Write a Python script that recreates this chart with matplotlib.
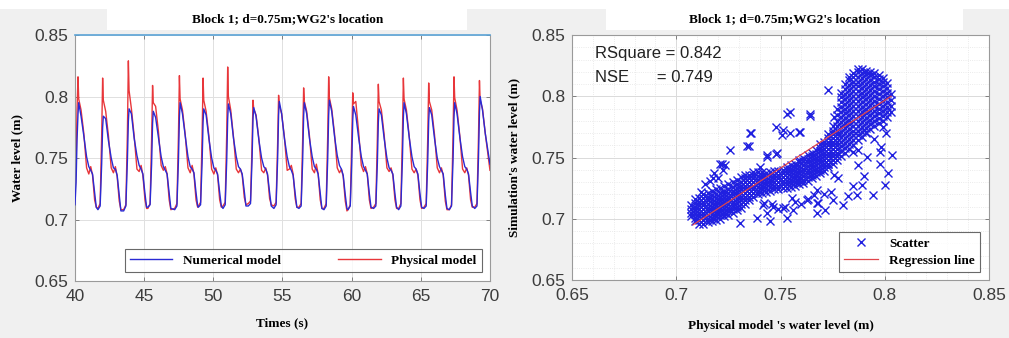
import numpy as np
import matplotlib.pyplot as plt
from matplotlib.ticker import MultipleLocator, AutoMinorLocator

# ---------------- datos: serie temporal (WG2) ----------------
tiempo = [
    40.00, 40.08, 40.15,
    40.22, 40.27, 40.44, 40.64, 40.84, 41.00, 41.14, 41.27, 41.42, 41.54,
    41.66, 41.82, 41.93, 42.00, 42.05, 42.22, 42.42, 42.62, 42.78, 42.92, 43.05, 43.20, 43.32,
    43.52, 43.68, 43.79, 43.86, 43.91, 44.08, 44.28, 44.48, 44.64, 44.78, 44.91, 45.06, 45.18,
    45.27, 45.43, 45.54, 45.61, 45.66, 45.83, 46.03, 46.23, 46.39, 46.53, 46.66, 46.81, 46.93,
    47.21, 47.37, 47.48, 47.55, 47.60, 47.77, 47.97, 48.17, 48.33, 48.47, 48.60, 48.75, 48.87,
    48.92, 49.08, 49.19, 49.26, 49.31, 49.48, 49.68, 49.88, 50.04, 50.18, 50.31, 50.46, 50.58,
    50.70, 50.86, 50.97, 51.04, 51.09, 51.26, 51.46, 51.66, 51.82, 51.96, 52.09, 52.24, 52.36,
    52.53, 52.69, 52.80, 52.87, 52.92, 53.09, 53.29, 53.49, 53.65, 53.79, 53.92, 54.07, 54.19,
    54.38, 54.54, 54.65, 54.72, 54.77, 54.94, 55.14, 55.34, 55.50, 55.64, 55.77, 55.92, 56.04,
    56.19, 56.35, 56.46, 56.53, 56.58, 56.75, 56.95, 57.15, 57.31, 57.45, 57.58, 57.73, 57.85,
    58.00, 58.16, 58.27, 58.34, 58.39, 58.56, 58.76, 58.96, 59.12, 59.26, 59.39, 59.54, 59.66,
    59.74, 59.90, 60.01, 60.08, 60.13, 60.30, 60.50, 60.70, 60.86, 61.00, 61.13, 61.28, 61.40,
    61.59, 61.75, 61.86, 61.93, 61.98, 62.15, 62.35, 62.55, 62.71, 62.85, 62.98, 63.13, 63.25,
    63.40, 63.56, 63.67, 63.74, 63.79, 63.96, 64.16, 64.36, 64.52, 64.66, 64.79, 64.94, 65.06,
    65.23, 65.39, 65.50, 65.57, 65.62, 65.79, 65.99, 66.19, 66.35, 66.49, 66.62, 66.77, 66.89,
    67.06, 67.22, 67.33, 67.40, 67.45, 67.62, 67.82, 68.02, 68.18, 68.32, 68.45, 68.60, 68.72,
    68.90, 69.06, 69.17, 69.24, 69.29, 69.46, 69.66, 69.86, 70.00,
]

modelo_fisico = [
    0.716, 0.745, 0.790,
    0.816, 0.798, 0.789, 0.770, 0.742, 0.737, 0.743, 0.736, 0.716, 0.710,
    0.709, 0.713, 0.768, 0.815, 0.797, 0.788, 0.768, 0.742, 0.738, 0.743, 0.735, 0.715, 0.708,
    0.708, 0.712, 0.770, 0.829, 0.805, 0.790, 0.768, 0.741, 0.739, 0.744, 0.736, 0.716, 0.709,
    0.709, 0.713, 0.765, 0.809, 0.795, 0.792, 0.772, 0.744, 0.740, 0.743, 0.737, 0.716, 0.708,
    0.709, 0.713, 0.768, 0.817, 0.798, 0.789, 0.769, 0.742, 0.738, 0.744, 0.737, 0.716, 0.710,
    0.711, 0.714, 0.767, 0.815, 0.797, 0.788, 0.768, 0.741, 0.737, 0.742, 0.736, 0.716, 0.710,
    0.711, 0.714, 0.770, 0.824, 0.800, 0.789, 0.767, 0.741, 0.738, 0.741, 0.736, 0.718, 0.712,
    0.713, 0.715, 0.760, 0.797, 0.790, 0.785, 0.766, 0.740, 0.738, 0.742, 0.736, 0.717, 0.712,
    0.711, 0.714, 0.762, 0.801, 0.793, 0.786, 0.767, 0.740, 0.741, 0.744, 0.737, 0.717, 0.710,
    0.710, 0.713, 0.765, 0.807, 0.796, 0.788, 0.768, 0.741, 0.738, 0.745, 0.737, 0.716, 0.709,
    0.709, 0.713, 0.768, 0.816, 0.799, 0.790, 0.770, 0.742, 0.738, 0.741, 0.735, 0.715, 0.707,
    0.708, 0.712, 0.765, 0.803, 0.794, 0.796, 0.772, 0.744, 0.739, 0.743, 0.737, 0.716, 0.709,
    0.710, 0.713, 0.766, 0.810, 0.796, 0.789, 0.769, 0.742, 0.739, 0.742, 0.736, 0.716, 0.709,
    0.709, 0.713, 0.768, 0.815, 0.798, 0.789, 0.768, 0.741, 0.738, 0.741, 0.736, 0.716, 0.709,
    0.710, 0.713, 0.766, 0.811, 0.796, 0.789, 0.769, 0.742, 0.738, 0.742, 0.736, 0.715, 0.708,
    0.708, 0.712, 0.768, 0.816, 0.799, 0.789, 0.768, 0.741, 0.738, 0.742, 0.736, 0.716, 0.710,
    0.710, 0.713, 0.767, 0.813, 0.797, 0.790, 0.770, 0.752, 0.740,
]

modelo_numerico = [
    0.712, 0.730, 0.765,
    0.786, 0.795, 0.784, 0.768, 0.751, 0.743, 0.740, 0.737, 0.722, 0.710,
    0.708, 0.711, 0.745, 0.775, 0.784, 0.782, 0.764, 0.750, 0.742, 0.741, 0.736, 0.720, 0.707,
    0.707, 0.711, 0.748, 0.780, 0.790, 0.786, 0.766, 0.752, 0.744, 0.741, 0.737, 0.721, 0.710,
    0.710, 0.712, 0.745, 0.778, 0.788, 0.783, 0.767, 0.751, 0.743, 0.740, 0.737, 0.721, 0.709,
    0.708, 0.711, 0.748, 0.783, 0.795, 0.786, 0.768, 0.751, 0.743, 0.741, 0.738, 0.722, 0.711,
    0.710, 0.712, 0.746, 0.779, 0.790, 0.785, 0.766, 0.750, 0.742, 0.740, 0.737, 0.722, 0.711,
    0.709, 0.712, 0.748, 0.782, 0.794, 0.786, 0.766, 0.751, 0.743, 0.741, 0.737, 0.723, 0.711,
    0.711, 0.713, 0.748, 0.782, 0.791, 0.784, 0.765, 0.750, 0.743, 0.741, 0.737, 0.722, 0.711,
    0.709, 0.712, 0.749, 0.785, 0.796, 0.786, 0.766, 0.751, 0.743, 0.740, 0.736, 0.721, 0.710,
    0.709, 0.711, 0.748, 0.784, 0.795, 0.786, 0.766, 0.751, 0.743, 0.741, 0.737, 0.721, 0.709,
    0.708, 0.711, 0.749, 0.785, 0.797, 0.788, 0.768, 0.752, 0.744, 0.741, 0.736, 0.720, 0.709,
    0.708, 0.711, 0.747, 0.781, 0.792, 0.785, 0.767, 0.751, 0.743, 0.740, 0.737, 0.721, 0.710,
    0.709, 0.711, 0.746, 0.779, 0.790, 0.785, 0.766, 0.750, 0.742, 0.740, 0.737, 0.721, 0.710,
    0.708, 0.711, 0.748, 0.783, 0.795, 0.786, 0.767, 0.751, 0.743, 0.741, 0.737, 0.721, 0.710,
    0.709, 0.711, 0.747, 0.780, 0.791, 0.785, 0.766, 0.750, 0.743, 0.740, 0.737, 0.720, 0.709,
    0.708, 0.711, 0.748, 0.783, 0.795, 0.786, 0.767, 0.751, 0.743, 0.741, 0.737, 0.722, 0.711,
    0.709, 0.711, 0.750, 0.787, 0.800, 0.789, 0.770, 0.755, 0.745,
]

# ---------------- datos: dispersion (nucleo denso, por columnas) ----------------
nucleo_x = [0.707, 0.709, 0.711, 0.713, 0.715, 0.717, 0.719, 0.721, 0.723, 0.725,
            0.727, 0.729, 0.731, 0.733, 0.735, 0.737, 0.739, 0.741, 0.743, 0.745,
            0.747, 0.749, 0.751, 0.753, 0.755, 0.757, 0.759, 0.761, 0.763, 0.765,
            0.767, 0.769, 0.771, 0.773, 0.775, 0.777, 0.779, 0.781, 0.783, 0.785,
            0.787, 0.789, 0.791, 0.793, 0.795, 0.797, 0.799, 0.801, 0.803]
nucleo_y = [
    [0.702, 0.705, 0.708, 0.711],
    [0.698, 0.701, 0.704, 0.707, 0.710, 0.713, 0.716],
    [0.696, 0.699, 0.702, 0.705, 0.708, 0.711, 0.714, 0.717],
    [0.696, 0.699, 0.702, 0.705, 0.708, 0.711, 0.714, 0.717, 0.720],
    [0.697, 0.700, 0.703, 0.706, 0.709, 0.712, 0.715, 0.718, 0.721],
    [0.698, 0.701, 0.704, 0.707, 0.710, 0.713, 0.716, 0.719, 0.723],
    [0.699, 0.702, 0.705, 0.708, 0.711, 0.714, 0.717, 0.720, 0.724],
    [0.700, 0.703, 0.706, 0.709, 0.712, 0.715, 0.718, 0.721, 0.725],
    [0.702, 0.705, 0.708, 0.711, 0.714, 0.717, 0.720, 0.723, 0.727],
    [0.703, 0.706, 0.709, 0.712, 0.715, 0.718, 0.721, 0.724, 0.728],
    [0.705, 0.708, 0.711, 0.714, 0.717, 0.720, 0.723, 0.726, 0.730],
    [0.707, 0.710, 0.713, 0.716, 0.719, 0.722, 0.725, 0.728, 0.732],
    [0.709, 0.712, 0.715, 0.718, 0.721, 0.724, 0.727, 0.730, 0.734],
    [0.712, 0.715, 0.718, 0.721, 0.724, 0.727, 0.730, 0.733, 0.736],
    [0.715, 0.718, 0.721, 0.724, 0.727, 0.730, 0.733, 0.736],
    [0.718, 0.721, 0.724, 0.727, 0.730, 0.733, 0.736, 0.738],
    [0.720, 0.723, 0.726, 0.729, 0.732, 0.735, 0.738],
    [0.721, 0.724, 0.727, 0.730, 0.733, 0.736, 0.738],
    [0.722, 0.725, 0.728, 0.731, 0.734, 0.737],
    [0.723, 0.726, 0.729, 0.732, 0.735, 0.738],
    [0.724, 0.727, 0.730, 0.733, 0.736, 0.739],
    [0.724, 0.727, 0.730, 0.733, 0.736, 0.739],
    [0.725, 0.728, 0.731, 0.734, 0.737, 0.740],
    [0.725, 0.728, 0.731, 0.734, 0.737, 0.740, 0.742],
    [0.726, 0.729, 0.732, 0.735, 0.738, 0.741, 0.744],
    [0.727, 0.730, 0.733, 0.736, 0.739, 0.742, 0.745],
    [0.728, 0.731, 0.734, 0.737, 0.740, 0.743, 0.746, 0.748],
    [0.729, 0.732, 0.735, 0.738, 0.741, 0.744, 0.747, 0.750],
    [0.731, 0.734, 0.737, 0.740, 0.743, 0.746, 0.749, 0.752],
    [0.733, 0.736, 0.739, 0.742, 0.745, 0.748, 0.751, 0.754],
    [0.735, 0.738, 0.741, 0.744, 0.747, 0.750, 0.753, 0.756],
    [0.737, 0.740, 0.743, 0.746, 0.749, 0.752, 0.755, 0.758, 0.761],
    [0.739, 0.742, 0.745, 0.748, 0.751, 0.754, 0.757, 0.760, 0.763],
    [0.742, 0.745, 0.748, 0.751, 0.754, 0.757, 0.760, 0.763, 0.766, 0.769],
    [0.745, 0.748, 0.751, 0.754, 0.757, 0.760, 0.763, 0.766, 0.769, 0.772, 0.776],
    [0.748, 0.751, 0.754, 0.757, 0.760, 0.763, 0.766, 0.769, 0.772, 0.776, 0.780, 0.785, 0.790],
    [0.751, 0.755, 0.759, 0.763, 0.767, 0.771, 0.775, 0.779, 0.783, 0.787, 0.791, 0.795, 0.799, 0.803],
    [0.754, 0.758, 0.762, 0.766, 0.770, 0.774, 0.778, 0.782, 0.786, 0.790, 0.794, 0.798, 0.802, 0.806, 0.810],
    [0.757, 0.761, 0.765, 0.769, 0.773, 0.777, 0.781, 0.785, 0.789, 0.793, 0.797, 0.801, 0.805, 0.809, 0.813, 0.816],
    [0.760, 0.764, 0.768, 0.772, 0.776, 0.780, 0.784, 0.788, 0.792, 0.796, 0.800, 0.804, 0.808, 0.812, 0.816, 0.819],
    [0.764, 0.768, 0.772, 0.776, 0.780, 0.784, 0.788, 0.792, 0.796, 0.800, 0.804, 0.808, 0.812, 0.816, 0.820, 0.822],
    [0.767, 0.771, 0.775, 0.779, 0.783, 0.787, 0.791, 0.795, 0.799, 0.803, 0.807, 0.811, 0.815, 0.819, 0.822],
    [0.770, 0.774, 0.778, 0.782, 0.786, 0.790, 0.794, 0.798, 0.802, 0.806, 0.810, 0.814, 0.818, 0.821],
    [0.773, 0.777, 0.781, 0.785, 0.789, 0.793, 0.797, 0.801, 0.805, 0.809, 0.813, 0.817, 0.820],
    [0.776, 0.780, 0.784, 0.788, 0.792, 0.796, 0.800, 0.804, 0.808, 0.812, 0.816, 0.819],
    [0.778, 0.782, 0.786, 0.790, 0.794, 0.798, 0.802, 0.806, 0.810, 0.814, 0.817],
    [0.780, 0.784, 0.788, 0.792, 0.796, 0.800, 0.804, 0.808, 0.812, 0.815],
    [0.783, 0.787, 0.791, 0.795, 0.799, 0.803, 0.807, 0.811],
    [0.787, 0.792, 0.797, 0.802],
]

# puntos sueltos (fuera del nucleo)
sueltos_x = [0.773, 0.7546, 0.764, 0.759, 0.748, 0.7505, 0.736, 0.7337, 0.735, 0.7258,
             0.7433, 0.748, 0.7217, 0.7234, 0.785, 0.7873, 0.7913, 0.7977, 0.8033, 0.798,
             0.8006, 0.799, 0.791, 0.795, 0.7755, 0.787, 0.7977, 0.773,
             0.7306, 0.7386, 0.7418, 0.7434, 0.7466, 0.7514, 0.753, 0.7554, 0.757, 0.7625,
             0.7673, 0.7673, 0.7713, 0.7753, 0.780, 0.7825, 0.7865, 0.785, 0.789, 0.7945,
             0.800, 0.8017, 0.790, 0.7777, 0.7755, 0.7673, 0.7594, 0.745, 0.7258, 0.7194,
             0.7354, 0.7402, 0.7434, 0.7482, 0.721, 0.7226, 0.7178, 0.753, 0.7514, 0.7546,
             0.7594, 0.7642, 0.712, 0.714, 0.716, 0.718, 0.720,
             0.742, 0.746, 0.749, 0.752, 0.756, 0.760, 0.763, 0.766, 0.768, 0.771, 0.774]
sueltos_y = [0.805, 0.787, 0.784, 0.771, 0.775, 0.768, 0.770, 0.7594, 0.7594, 0.756,
             0.7518, 0.7526, 0.7445, 0.7437, 0.7546, 0.756, 0.7505, 0.7546, 0.752, 0.7586,
             0.7696, 0.775, 0.771, 0.7655, 0.783, 0.744, 0.745, 0.745,
             0.6965, 0.7006, 0.7114, 0.7047, 0.710, 0.7087, 0.7006, 0.7169, 0.714, 0.7155,
             0.7128, 0.7047, 0.7073, 0.7155, 0.7114, 0.7182, 0.7196, 0.7264, 0.7278, 0.7196,
             0.7278, 0.7374, 0.7346, 0.7333, 0.736, 0.7237, 0.7333, 0.6978, 0.7073, 0.7047,
             0.7696, 0.7425, 0.7506, 0.7533, 0.745, 0.7397, 0.733, 0.7859, 0.7722, 0.7696,
             0.771, 0.7859, 0.722, 0.728, 0.731, 0.737, 0.733,
             0.713, 0.712, 0.708, 0.710, 0.707, 0.712, 0.716, 0.719, 0.713, 0.720, 0.722]

# recta de regresion (extremos)
regresion_x = [0.708, 0.803]
regresion_y = [0.695, 0.800]

rsquare = 0.842
nse = 0.749

titulo = "Block 1; d=0.75m;WG2's location"

# ---------------- figura ----------------
AZUL = '#2a2ad4'
ROJO = '#e8363a'
GRIS_TXT = '#3c3c3c'
serif = 'Liberation Serif'
sans = 'Liberation Sans'

fig = plt.figure(figsize=(10.09, 3.38), dpi=100, facecolor='#f0f0f0')
fig.patches.append(plt.Rectangle((0, 0.973), 1, 0.03, transform=fig.transFigure,
                                 facecolor='white', edgecolor='none', zorder=0))

# cajas blancas de titulo
for x0, w in [(0.106, 0.357), (0.601, 0.353)]:
    fig.patches.append(plt.Rectangle((x0, 0.911), w, 0.064, transform=fig.transFigure,
                                     facecolor='white', edgecolor='none', zorder=1))

ax1 = fig.add_axes([0.0743, 0.1686, 0.4113, 0.7278])
ax2 = fig.add_axes([0.5669, 0.1716, 0.4133, 0.7248])


def estilo(ax):
    ax.set_facecolor('white')
    for s in ax.spines.values():
        s.set_color('#9a9a9a')
        s.set_linewidth(0.8)
    ax.tick_params(direction='in', length=3, width=0.6, colors='#707070',
                   top=True, right=True, labelsize=12.5, labelcolor=GRIS_TXT)
    ax.tick_params(axis='x', pad=6)
    ax.tick_params(axis='y', pad=5)
    for lab in ax.get_xticklabels() + ax.get_yticklabels():
        lab.set_fontfamily(sans)
    ax.set_ylim(0.65, 0.85)
    ax.yaxis.set_major_locator(MultipleLocator(0.05))
    ax.yaxis.set_major_formatter(plt.FuncFormatter(lambda v, p: f'{v:g}'))


# ---- panel izquierdo: serie temporal ----
ax1.plot(tiempo, modelo_numerico, color=AZUL, lw=1.0, label='Numerical model', zorder=3)
ax1.plot(tiempo, modelo_fisico, color=ROJO, lw=1.0, label='Physical model', zorder=2)
ax1.set_xlim(40, 70)
ax1.xaxis.set_major_locator(MultipleLocator(5))
estilo(ax1)
ax1.grid(True, color='#e0e0e0', lw=0.7)
ax1.spines['top'].set_color('#5aa3d6')
ax1.spines['top'].set_linewidth(1.2)
ax1.set_xlabel('Times (s)', fontfamily=serif, fontweight='bold', fontsize=9.5, labelpad=9)
ax1.set_ylabel('Water level (m)', fontfamily=serif, fontweight='bold', fontsize=9.5, labelpad=8)
fig.text(0.285, 0.943, titulo, ha='center', va='center', fontfamily=serif,
         fontweight='bold', fontsize=9.5, zorder=5)
leg1 = ax1.legend(loc='lower left', bbox_to_anchor=(0.12, 0.037, 0.86, 0.097), mode='expand',
                  ncol=2, frameon=True, fancybox=False, handlelength=3.2, borderaxespad=0,
                  prop={'family': serif, 'weight': 'bold', 'size': 9.5})
leg1.get_frame().set_edgecolor('#444444')
leg1.get_frame().set_linewidth(0.8)

# ---- panel derecho: dispersion ----
sc_x = [x for x, col in zip(nucleo_x, nucleo_y) for _ in col] + sueltos_x
sc_y = [y for col in nucleo_y for y in col] + sueltos_y
ax2.plot(sc_x, sc_y, 'x', color='#2020e0', ms=5.2, mew=1.0, label='Scatter', zorder=3)
ax2.plot(regresion_x, regresion_y, color='#e0454a', lw=0.9, label='Regression line', zorder=4)
ax2.set_xlim(0.65, 0.85)
ax2.xaxis.set_major_locator(MultipleLocator(0.05))
ax2.xaxis.set_major_formatter(plt.FuncFormatter(lambda v, p: f'{v:g}'))
estilo(ax2)
ax2.xaxis.set_minor_locator(AutoMinorLocator(5))
ax2.yaxis.set_minor_locator(AutoMinorLocator(5))
ax2.tick_params(which='minor', length=0)
ax2.grid(True, which='major', color='#dadada', lw=0.7)
ax2.grid(True, which='minor', color='#e4e4e4', lw=0.6, ls=':')
ax2.set_axisbelow(True)
ax2.set_xlabel("Physical model 's water level (m)", fontfamily=serif, fontweight='bold',
               fontsize=9.5, labelpad=12)
ax2.set_ylabel("Simulation's water level (m)", fontfamily=serif, fontweight='bold',
               fontsize=9.5, labelpad=8)
fig.text(0.778, 0.943, titulo, ha='center', va='center', fontfamily=serif,
         fontweight='bold', fontsize=9.5, zorder=5)
ax2.text(0.055, 0.905, f'RSquare = {rsquare}', transform=ax2.transAxes, fontfamily=sans,
         fontsize=12, color='#222222')
ax2.text(0.055, 0.81, f'NSE      = {nse}', transform=ax2.transAxes, fontfamily=sans,
         fontsize=12, color='#222222')
leg2 = ax2.legend(loc='lower right', bbox_to_anchor=(0.978, 0.033), borderaxespad=0,
                  frameon=True, fancybox=False, handlelength=2.6, labelspacing=0.35,
                  prop={'family': serif, 'weight': 'bold', 'size': 9.5})
leg2.get_frame().set_edgecolor('#444444')
leg2.get_frame().set_linewidth(0.8)

fig.savefig('out.png', dpi=100, facecolor=fig.get_facecolor())
